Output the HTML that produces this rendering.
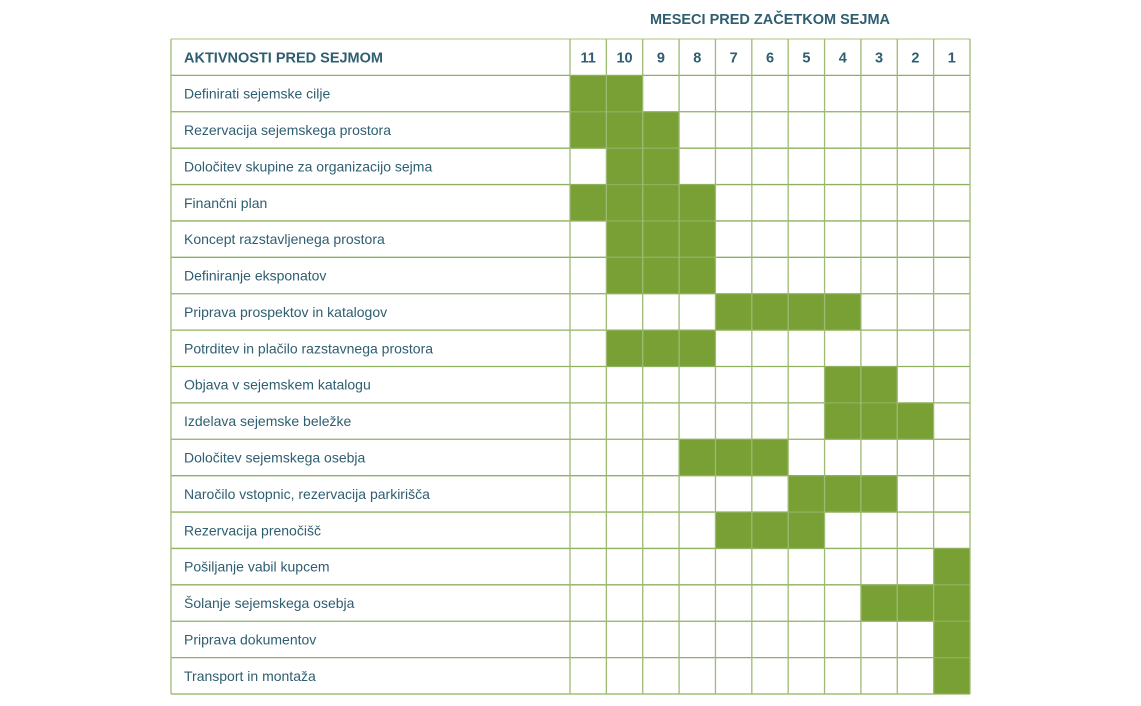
<!DOCTYPE html>
<html><head><meta charset="utf-8">
<style>
html,body{margin:0;padding:0;background:#fff;}
svg{display:block;font-family:"Liberation Sans",sans-serif;}
</style></head>
<body>
<svg id="chart" width="1141" height="706" viewBox="0 0 1141 706" xmlns="http://www.w3.org/2000/svg">
<text x="770" y="24" text-anchor="middle" font-size="14.5" font-weight="bold" fill="#2e5e70">MESECI PRED ZAČETKOM SEJMA</text>
</svg>
<script>
const months = [11,10,9,8,7,6,5,4,3,2,1];
const activities = [
"Definirati sejemske cilje",
"Rezervacija sejemskega prostora",
"Določitev skupine za organizacijo sejma",
"Finančni plan",
"Koncept razstavljenega prostora",
"Definiranje eksponatov",
"Priprava prospektov in katalogov",
"Potrditev in plačilo razstavnega prostora",
"Objava v sejemskem katalogu",
"Izdelava sejemske beležke",
"Določitev sejemskega osebja",
"Naročilo vstopnic, rezervacija parkirišča",
"Rezervacija prenočišč",
"Pošiljanje vabil kupcem",
"Šolanje sejemskega osebja",
"Priprava dokumentov",
"Transport in montaža"
];
const activeMonths = [
[11,10],[11,10,9],[10,9],[11,10,9,8],[10,9,8],[10,9,8],[7,6,5,4],[10,9,8],
[4,3],[4,3,2],[8,7,6],[5,4,3],[7,6,5],[1],[3,2,1],[1],[1]
];
const svg = document.getElementById('chart');
const NS = 'http://www.w3.org/2000/svg';
const gLeft = 171, labelW = 399, gRight = 970, gTop = 39, gBottom = 694;
const colW = (gRight - gLeft - labelW) / months.length;
const rowH = (gBottom - gTop) / (activities.length + 1);
const xOf = i => gLeft + labelW + i * colW;
const yOf = r => gTop + (r + 1) * rowH;
function mk(tag, attrs){const e=document.createElementNS(NS,tag);for(const k in attrs)e.setAttribute(k,attrs[k]);svg.appendChild(e);return e;}
activeMonths.forEach((list, r) => {
  list.forEach(m => {
    const i = months.indexOf(m);
    const c = mk('rect',{x:xOf(i),y:yOf(r),width:colW,height:rowH,fill:'#78a035'});
    
    
  });
});
for (let r = 0; r <= activities.length + 1; r++) {
  const y = gTop + r * rowH;
  const l = mk('line',{x1:gLeft,x2:gRight,y1:y,y2:y,stroke:(r===0?'#b9cf98':'#8fb060'),'stroke-width':1.3});
  
  
}
const vx = [gLeft].concat(months.map((m,i)=>xOf(i))).concat([gRight]);
vx.forEach(x => {
  const l = mk('line',{x1:x,x2:x,y1:gTop,y2:gBottom,stroke:'#9dbb72','stroke-width':1.3});
  
  
});
const h = mk('text',{x:184,y:gTop+rowH/2+5.5,'font-size':14.5,'font-weight':'bold',fill:'#2e5e70'});
h.textContent = 'AKTIVNOSTI PRED SEJMOM';


months.forEach((m,i) => {
  const t = mk('text',{x:xOf(i)+colW/2,y:gTop+rowH/2+5.5,'text-anchor':'middle','font-size':14.5,'font-weight':'bold',fill:'#2e5e70'});
  t.textContent = m;
  
  
});
activities.forEach((a,r) => {
  const t = mk('text',{x:184,y:yOf(r)+rowH/2+5,'font-size':14,fill:'#2e5e70'});
  t.textContent = a;
  
  
});
</script>
</body></html>
